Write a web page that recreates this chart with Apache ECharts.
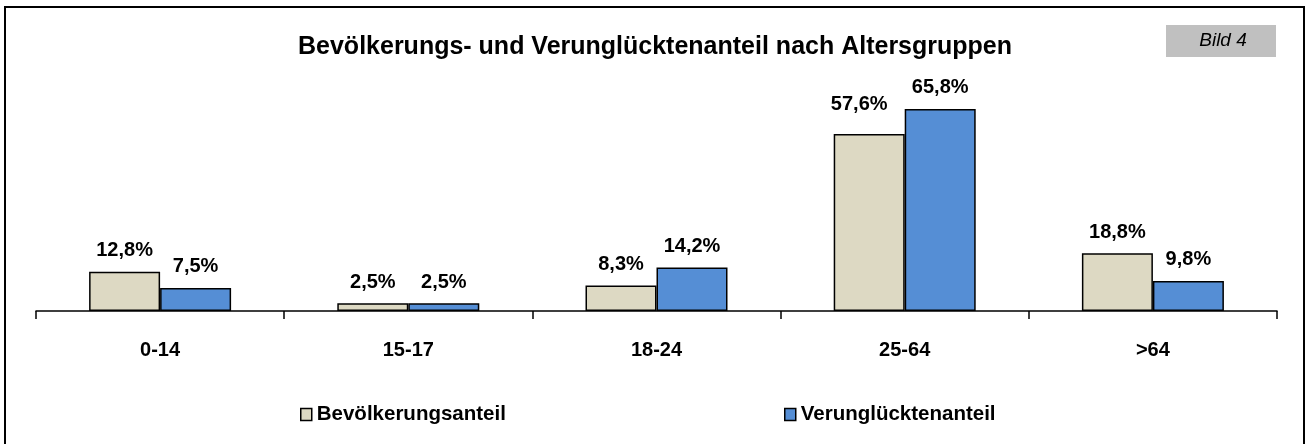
<!DOCTYPE html>
<html>
<head>
<meta charset="utf-8">
<script src="https://cdn.jsdelivr.net/npm/echarts@6/dist/echarts.min.js"></script>
<style>
  html, body { margin: 0; padding: 0; background: #fff; }
  #chart { width: 1310px; height: 444px; }
</style>
</head>
<body>
<div id="chart"></div>
<script>
// Altersgruppen
var altersgruppen = ['0-14', '15-17', '18-24', '25-64', '>64'];
// Anteile in %
var bevoelkerungsanteil = [12.8, 2.5, 8.3, 57.6, 18.8];
var verunglueckenanteil = [7.5, 2.5, 14.2, 65.8, 9.8];
var serienNamen = ['Bevölkerungsanteil', 'Verunglücktenanteil'];

var FONT = '"Liberation Sans", Arial, sans-serif';

function fmt(p) {
    return p.value.toFixed(1).replace('.', ',') + '%';
}

// Beschriftung 57,6% ist im Original etwas nach oben links verschoben
function datenMitVerschiebung(werte, verschiebung) {
    return werte.map(function (v, i) {
        if (verschiebung[i]) {
            return { value: v, label: { offset: verschiebung[i] } };
        }
        return v;
    });
}

var chart = echarts.init(document.getElementById('chart'));
var option = {
    backgroundColor: '#fff',
    animation: false,
    title: {
        text: 'Bevölkerungs- und Verunglücktenanteil nach Altersgruppen',
        left: 'center',
        top: 30,
        textStyle: {
            color: '#000',
            fontFamily: FONT,
            fontWeight: 'bold',
            fontSize: 25
        }
    },
    graphic: [
        {   // Rahmen
            type: 'rect',
            shape: { x: 5, y: 7, width: 1299, height: 460 },
            style: { fill: 'none', stroke: '#000', lineWidth: 2 },
            silent: true
        },
        {
            type: 'rect',
            shape: { x: 1166, y: 25, width: 110, height: 32 },
            style: { fill: '#c0c0c0' },
            silent: true
        },
        {
            type: 'text',
            x: 1223,
            y: 41,
            style: {
                text: 'Bild 4',
                fontFamily: FONT,
                fontStyle: 'italic',
                fontSize: 19,
                fill: '#000',
                align: 'center',
                verticalAlign: 'middle'
            },
            silent: true
        }
    ],
    legend: [
        {
            data: [serienNamen[0]],
            left: 295,
            top: 399,
            icon: 'rect',
            itemWidth: 11,
            itemHeight: 12,
            itemStyle: { borderColor: '#000', borderWidth: 1.5 },
            textStyle: { color: '#000', fontFamily: FONT, fontWeight: 'bold', fontSize: 20.5 }
        },
        {
            data: [serienNamen[1]],
            left: 779,
            top: 399,
            icon: 'rect',
            itemWidth: 11,
            itemHeight: 12,
            itemStyle: { borderColor: '#000', borderWidth: 1.5 },
            textStyle: { color: '#000', fontFamily: FONT, fontWeight: 'bold', fontSize: 20.5 }
        }
    ],
    grid: {
        left: 36,
        right: 33,
        top: 96,
        bottom: 133
    },
    xAxis: {
        type: 'category',
        data: altersgruppen,
        axisLine: { lineStyle: { color: '#000', width: 1.5 } },
        axisTick: { show: true, length: 8, lineStyle: { color: '#000', width: 1.5 } },
        axisLabel: {
            color: '#000',
            fontFamily: FONT,
            fontWeight: 'bold',
            fontSize: 20,
            margin: 29
        }
    },
    yAxis: {
        type: 'value',
        min: 0,
        max: 70,
        show: false
    },
    series: [
        {
            name: serienNamen[0],
            type: 'bar',
            barWidth: 71,
            barGap: '0%',
            data: datenMitVerschiebung(bevoelkerungsanteil, { 3: [-10, -9] }),
            itemStyle: { color: '#ddd9c3', borderColor: '#000', borderWidth: 1.5 },
            label: {
                show: true,
                position: 'top',
                distance: 11,
                formatter: fmt,
                color: '#000',
                fontFamily: FONT,
                fontWeight: 'bold',
                fontSize: 20
            }
        },
        {
            name: serienNamen[1],
            type: 'bar',
            barWidth: 71,
            barGap: '0%',
            data: verunglueckenanteil,
            itemStyle: { color: '#558ed5', borderColor: '#000', borderWidth: 1.5 },
            label: {
                show: true,
                position: 'top',
                distance: 11,
                formatter: fmt,
                color: '#000',
                fontFamily: FONT,
                fontWeight: 'bold',
                fontSize: 20
            }
        }
    ]
};
chart.setOption(option);
</script>
</body>
</html>
